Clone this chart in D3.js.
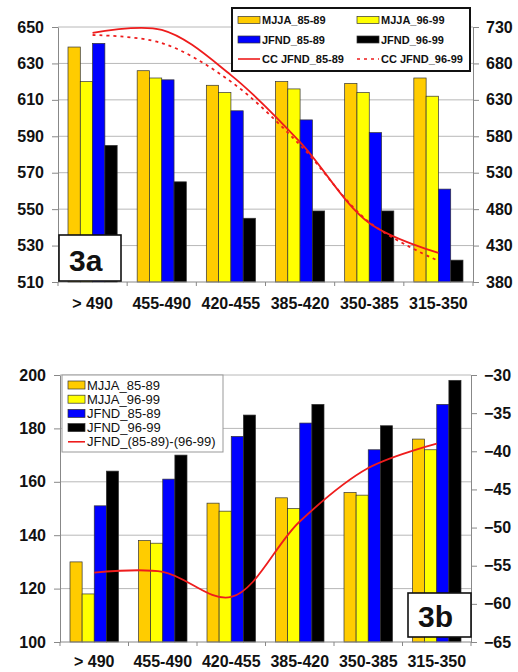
<!DOCTYPE html>
<html>
<head>
<meta charset="utf-8">
<script src="https://cdn.jsdelivr.net/npm/d3@7"></script>
<style>
  body { margin: 0; background: #fff; }
  svg { display: block; font-family: "Liberation Sans", Arial, sans-serif; }
</style>
</head>
<body>
<svg id="chart" width="518" height="672"></svg>
<script>
// ---- data ----
const categories = ["> 490", "455-490", "420-455", "385-420", "350-385", "315-350"];
const seriesNames = ["MJJA_85-89", "MJJA_96-99", "JFND_85-89", "JFND_96-99"];
const seriesColors = ["#ffcc00", "#ffff00", "#0000ff", "#000000"];

// fig 3a (left axis)
const mjja8589A = [639, 626, 618, 620, 619, 622];
const mjja9699A = [620, 622, 614, 616, 614, 612];
const jfnd8589A = [641, 621, 604, 599, 592, 561];
const jfnd9699A = [585, 565, 545, 549, 549, 522];
// fig 3a (right axis)
const ccJfnd8589 = [722, 726, 664, 572, 461, 420];
const ccJfnd9699 = [719, 708, 655, 568, 462, 409];
const ticksA_left = [510, 530, 550, 570, 590, 610, 630, 650];
const ticksA_right = [380, 430, 480, 530, 580, 630, 680, 730];

// fig 3b (left axis)
const mjja8589B = [130, 138, 152, 154, 156, 176];
const mjja9699B = [118, 137, 149, 150, 155, 172];
const jfnd8589B = [151, 161, 177, 182, 172, 189];
const jfnd9699B = [164, 170, 185, 189, 181, 198];
// fig 3b (right axis)
const jfndDiff = [-55.9, -55.8, -59.1, -49.2, -42.2, -39.0];
const ticksB_left = [100, 120, 140, 160, 180, 200];
const ticksB_right = [-65, -60, -55, -50, -45, -40, -35, -30];

const svg = d3.select("#chart");

function drawPanel(cfg) {
  const { left, right, top, bottom } = cfg;
  const g = svg.append("g");

  const x = d3.scaleBand().domain(categories).range([left, right]);
  const xs = d3.scaleBand().domain(seriesNames).range([10, x.bandwidth() - 10]);
  const yL = d3.scaleLinear().domain(d3.extent(cfg.leftTicks)).range([bottom, top]);
  const yR = d3.scaleLinear().domain(d3.extent(cfg.rightTicks)).range([bottom, top]);

  // gridlines
  g.append("g")
    .selectAll("line")
    .data(cfg.leftTicks.slice(1))
    .join("line")
    .attr("x1", left).attr("x2", right)
    .attr("y1", d => yL(d)).attr("y2", d => yL(d))
    .attr("stroke", "#b8b8b8").attr("stroke-width", 1);

  // bars
  const rows = categories.map((c, i) => ({ c, vals: cfg.bars.map(s => s[i]) }));
  g.append("g")
    .selectAll("g")
    .data(rows)
    .join("g")
    .attr("transform", d => `translate(${x(d.c)},0)`)
    .selectAll("rect")
    .data(d => d.vals.map((v, k) => ({ v, k })))
    .join("rect")
    .attr("x", d => xs(seriesNames[d.k]))
    .attr("width", xs.bandwidth())
    .attr("y", d => yL(d.v))
    .attr("height", d => bottom - yL(d.v))
    .attr("fill", d => seriesColors[d.k])
    .attr("stroke", "#333")
    .attr("stroke-width", 0.7);

  // lines
  const line = d3.line()
    .x((d, i) => x(categories[i]) + x.bandwidth() / 2)
    .y(d => yR(d))
    .curve(d3.curveCatmullRom.alpha(0.5));
  cfg.lines.forEach(l => {
    g.append("path")
      .attr("d", line(l.data))
      .attr("fill", "none")
      .attr("stroke", "#ee1c1c")
      .attr("stroke-width", 1.8)
      .attr("stroke-dasharray", l.dash || null);
  });

  // left axis
  const axL = g.append("g")
    .attr("transform", `translate(${left},0)`)
    .call(d3.axisLeft(yL).tickValues(cfg.leftTicks).tickSize(6).tickSizeOuter(0).tickPadding(8));
  // right axis
  const axR = g.append("g")
    .attr("transform", `translate(${right},0)`)
    .call(d3.axisRight(yR).tickValues(cfg.rightTicks).tickSize(6).tickSizeOuter(0).tickPadding(7));
  [axL, axR].forEach(a => {
    a.select(".domain").attr("stroke", "#888");
    a.selectAll(".tick line").attr("stroke", "#888");
    a.selectAll(".tick text")
      .attr("font-size", 16).attr("font-weight", "bold").attr("fill", "#111")
      .attr("font-family", "Liberation Sans, Arial, sans-serif");
  });

  // x axis
  const xa = g.append("g");
  xa.append("line")
    .attr("x1", left).attr("x2", right)
    .attr("y1", bottom).attr("y2", bottom)
    .attr("stroke", "#888");
  xa.selectAll(".xt")
    .data(categories.concat([null]))
    .join("line")
    .attr("x1", (d, i) => i < categories.length ? x(d) : right)
    .attr("x2", (d, i) => i < categories.length ? x(d) : right)
    .attr("y1", bottom).attr("y2", bottom + 4)
    .attr("stroke", "#888");
  xa.selectAll("text")
    .data(categories)
    .join("text")
    .attr("x", d => x(d) + x.bandwidth() / 2)
    .attr("y", cfg.labelY)
    .attr("text-anchor", "middle")
    .attr("font-size", 16).attr("font-weight", "bold").attr("fill", "#111")
    .text(d => d);

  // panel tag
  const t = cfg.tag;
  g.append("rect")
    .attr("x", t.x).attr("y", t.y).attr("width", t.w).attr("height", t.h)
    .attr("fill", "#fff").attr("stroke", "#111").attr("stroke-width", 1.6);
  g.append("text")
    .attr("x", t.x + 10).attr("y", t.y + t.h - 10)
    .attr("font-size", 30).attr("font-weight", "bold").attr("fill", "#111")
    .text(t.text);

  return g;
}

// ---- 3a ----
const gA = drawPanel({
  left: 58, right: 473, top: 27, bottom: 282,
  leftTicks: ticksA_left, rightTicks: ticksA_right,
  bars: [mjja8589A, mjja9699A, jfnd8589A, jfnd9699A],
  lines: [{ data: ccJfnd8589 }, { data: ccJfnd9699, dash: "3,4" }],
  labelY: 309,
  tag: { x: 59, y: 235, w: 62, h: 46, text: "3a" }
});

// legend 3a
const legA = gA.append("g");
legA.append("rect")
  .attr("x", 232).attr("y", 8).attr("width", 238).attr("height", 63)
  .attr("fill", "#fff").attr("stroke", "#111").attr("stroke-width", 2);
const legAItems = seriesNames.map((n, i) => ({ n, type: "bar", color: seriesColors[i] }))
  .concat([{ n: "CC JFND_85-89", type: "line" }, { n: "CC JFND_96-99", type: "line", dash: "3,4" }]);
legAItems.forEach((d, i) => {
  const cx = i % 2 === 0 ? 238 : 357;
  const cy = 20 + Math.floor(i / 2) * 19.5;
  if (d.type === "bar") {
    legA.append("rect")
      .attr("x", cx).attr("y", cy - 3.5).attr("width", 22).attr("height", 7)
      .attr("fill", d.color).attr("stroke", "#333").attr("stroke-width", 0.7);
  } else {
    legA.append("line")
      .attr("x1", cx).attr("x2", cx + 22).attr("y1", cy).attr("y2", cy)
      .attr("stroke", "#ee1c1c").attr("stroke-width", 1.6)
      .attr("stroke-dasharray", d.dash || null);
  }
  legA.append("text")
    .attr("x", cx + 24).attr("y", cy + 4)
    .attr("font-size", 11).attr("font-weight", "bold").attr("fill", "#111")
    .text(d.n);
});

// ---- 3b ----
const gB = drawPanel({
  left: 60, right: 471, top: 375, bottom: 642,
  leftTicks: ticksB_left, rightTicks: ticksB_right,
  bars: [mjja8589B, mjja9699B, jfnd8589B, jfnd9699B],
  lines: [{ data: jfndDiff }],
  labelY: 667,
  tag: { x: 408, y: 593, w: 63, h: 44, text: "3b" }
});

// legend 3b
const legB = gB.append("g");
legB.append("rect")
  .attr("x", 62).attr("y", 375).attr("width", 161).attr("height", 77)
  .attr("fill", "#fff").attr("stroke", "#999").attr("stroke-width", 1);
const legBItems = seriesNames.map((n, i) => ({ n, type: "bar", color: seriesColors[i] }))
  .concat([{ n: "JFND_(85-89)-(96-99)", type: "line" }]);
legBItems.forEach((d, i) => {
  const cy = 385 + i * 14.2;
  if (d.type === "bar") {
    legB.append("rect")
      .attr("x", 68).attr("y", cy - 4).attr("width", 17).attr("height", 8)
      .attr("fill", d.color).attr("stroke", "#333").attr("stroke-width", 0.7);
  } else {
    legB.append("line")
      .attr("x1", 68).attr("x2", 85).attr("y1", cy).attr("y2", cy)
      .attr("stroke", "#ee1c1c").attr("stroke-width", 1.6);
  }
  legB.append("text")
    .attr("x", 87).attr("y", cy + 4.5)
    .attr("font-size", 13).attr("fill", "#111")
    .text(d.n);
});
</script>
</body>
</html>
